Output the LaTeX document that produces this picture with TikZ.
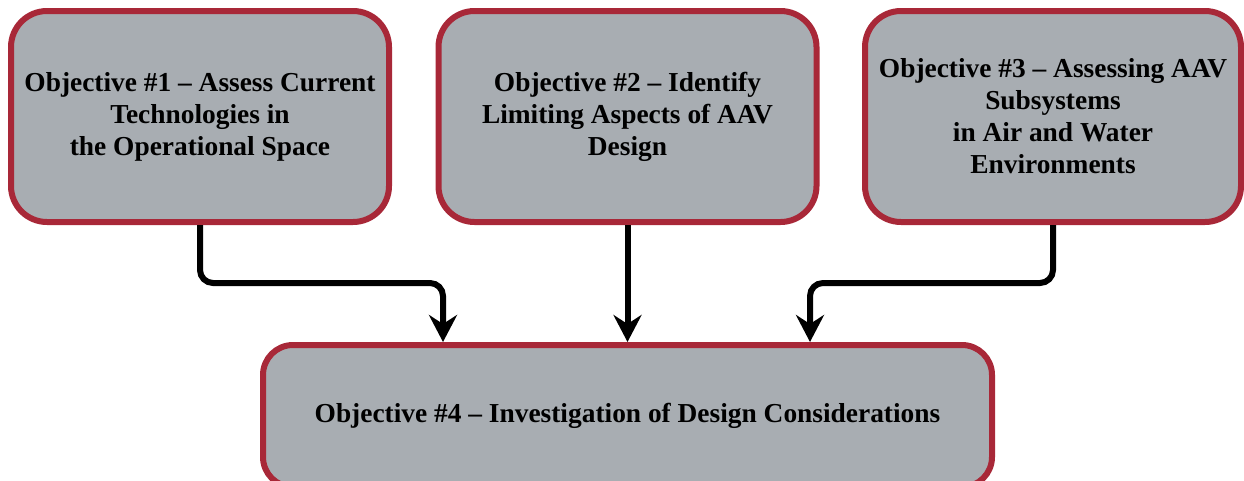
\documentclass[tikz,border=0pt]{standalone}
\usepackage{fontspec}
\setmainfont{Liberation Serif}
\usetikzlibrary{arrows.meta}
\definecolor{boxfill}{RGB}{168,173,178}
\definecolor{boxborder}{RGB}{168,40,56}
\tikzset{
  objbox/.style={draw=boxborder, fill=boxfill, line width=6pt, rounded corners=36pt,
    align=center, font=\fontsize{27.4pt}{32pt}\selectfont\bfseries, inner sep=0pt},
  flowarrow/.style={draw=black, line width=6pt, rounded corners=13pt,
    -{Stealth[length=27pt,width=28pt,inset=9pt]}}
}
\begin{document}
\begin{tikzpicture}[x=1pt,y=-1pt]
\useasboundingbox (0,0) rectangle (1244,480);
\clip (0,0) rectangle (1244,480);
\node[objbox, minimum width=378pt, minimum height=211pt] (b1) at (200,116.5)
  {Objective \#1 -- Assess Current\\Technologies in\\the Operational Space};
\node[objbox, minimum width=378pt, minimum height=211pt] (b2) at (627.5,116.5)
  {Objective \#2 -- Identify\\Limiting Aspects of AAV\\Design};
\node[objbox, minimum width=376pt, minimum height=211pt] (b3) at (1053,116.5)
  {Objective \#3 -- Assessing AAV\\Subsystems\\in Air and Water\\Environments};
\node[objbox, rounded corners=30pt, minimum width=729pt, minimum height=142pt] (b4) at (627.5,416)
  {Objective \#4 -- Investigation of Design Considerations};
\coordinate (t1) at ([xshift=-184.5pt]b4.north);
\coordinate (t3) at ([xshift=182.5pt]b4.north);
\draw[flowarrow] (b1.south) -- ++(0,58) -| (t1);
\draw[flowarrow] (b2.south) -- (b4.north);
\draw[flowarrow] (b3.south) -- ++(0,58) -| (t3);
\end{tikzpicture}
\end{document}
